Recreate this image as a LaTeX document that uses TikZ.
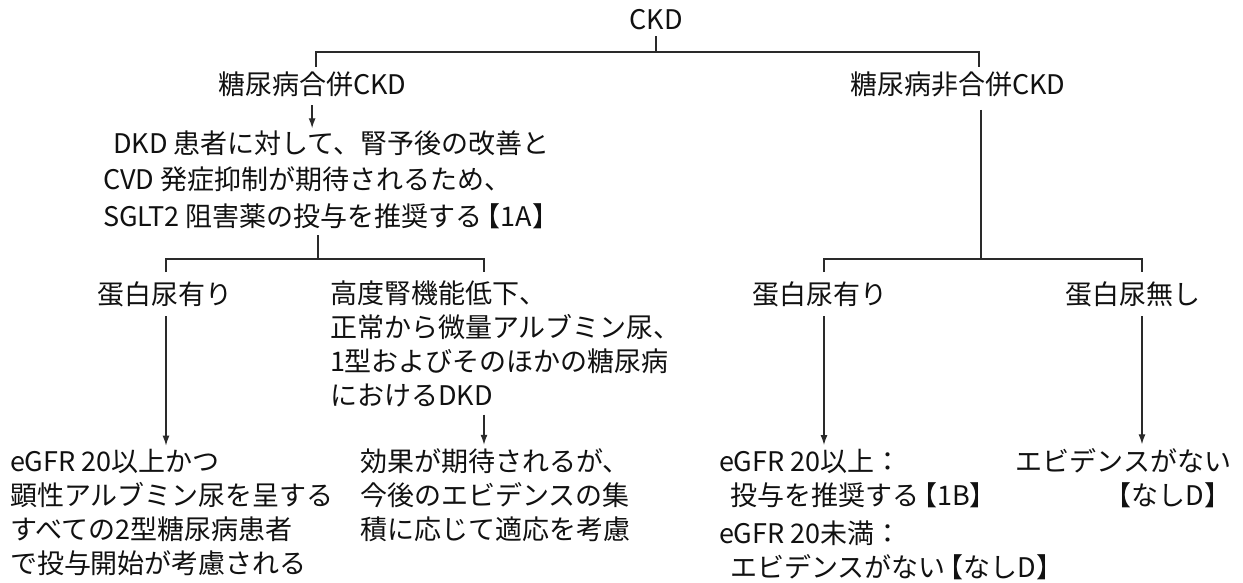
\documentclass[tikz,border=0pt]{standalone}
\usepackage{fontspec}
\setmainfont{Noto Sans CJK JP}
\usetikzlibrary{arrows.meta}
\definecolor{ink}{HTML}{111111}
\definecolor{linec}{HTML}{2A2A2A}
\newcommand{\lbk}{\hspace{-9pt}【}
\begin{document}
\begin{tikzpicture}[x=1pt,y=-1pt,
  txt/.style={inner sep=0pt, outer sep=0pt, anchor=base west, align=left, text=ink,
              font=\fontsize{27}{33.7}\selectfont},
  conn/.style={line width=1.3pt, draw=linec},
  arr/.style={conn, -{Latex[length=10pt,width=7pt]}}]
\useasboundingbox[fill=white] (0,0) rectangle (1243,583);

% ---------- nodes (multi-line nodes: base = last line) ----------
\node[txt, anchor=base] (ckd) at (656,30) {CKD};
\node[txt] (dm)  at (218,95) {糖尿病合併CKD};
\node[txt] (ndm) at (850,95) {糖尿病非合併CKD};
\node[txt, font=\fontsize{27}{36.5}\selectfont] (rec) at (103,226)
  {\hspace{10pt}DKD 患者に対して、腎予後の改善と\\CVD 発症抑制が期待されるため、\\SGLT2 阻害薬の投与を推奨する\lbk 1A】};
\node[txt] (pl)  at (97,304) {蛋白尿有り};
\node[txt] (adv) at (330,405) {高度腎機能低下、\\正常から微量アルブミン尿、\\1型およびそのほかの糖尿病\\におけるDKD};
\node[txt] (pr)  at (752,304) {蛋白尿有り};
\node[txt] (pn)  at (1065,304) {蛋白尿無し};
\node[txt] (o1)  at (10,573) {eGFR 20以上かつ\\顕性アルブミン尿を呈する\\すべての2型糖尿病患者\\で投与開始が考慮される};
\node[txt] (o2)  at (360,539) {効果が期待されるが、\\今後のエビデンスの集\\積に応じて適応を考慮};
\node[txt] (o3)  at (719,505) {eGFR 20以上：\\\hspace{11pt}投与を推奨する\lbk 1B】};
\node[txt] (o4)  at (719,577) {eGFR 20未満：\\\hspace{11pt}エビデンスがない\lbk なしD】};
\node[txt, anchor=base east, align=right] (o5) at (1231,505) {エビデンスがない\\【なしD】\hspace{4pt}};

% ---------- junction coordinates ----------
\coordinate (h0) at (656,52);
\coordinate (dmj) at (316,67);
\coordinate (ndmj) at (979,67);
\coordinate (recb) at (318,235);
\coordinate (h1) at (318,259);
\coordinate (plj) at (166,272);
\coordinate (advj) at (484,272);
\coordinate (ndmb) at (981,110);
\coordinate (h2) at (981,259);
\coordinate (prj) at (824,272);
\coordinate (pnj) at (1142,272);

% ---------- connectors ----------
\draw[conn] ([yshift=-6pt]ckd.south) -- (h0);
\draw[conn] (dmj) -- (dmj |- h0) -- (ndmj |- h0) -- (ndmj);

\draw[arr] ([yshift=-8pt]dm.south) -- ([yshift=2pt]rec.north -| dm.south);

\draw[conn] (recb) -- (h1);
\draw[conn] (plj) -- (plj |- h1) -- (advj |- h1) -- (advj);
\draw[arr] (pl.south -| plj) ++(0,-10pt) -- ([yshift=4pt]o1.north -| plj);
\draw[arr] ([yshift=-8pt]adv.south -| advj) -- ([yshift=4pt]o2.north -| advj);

\draw[conn] (ndmb) -- (h2);
\draw[conn] (prj) -- (prj |- h2) -- (pnj |- h2) -- (pnj);
\draw[arr] (pr.south -| prj) ++(0,-10pt) -- ([yshift=4pt]o3.north -| prj);
\draw[arr] (pn.south -| pnj) ++(0,-10pt) -- ([yshift=4pt]o5.north -| pnj);
\end{tikzpicture}
\end{document}
